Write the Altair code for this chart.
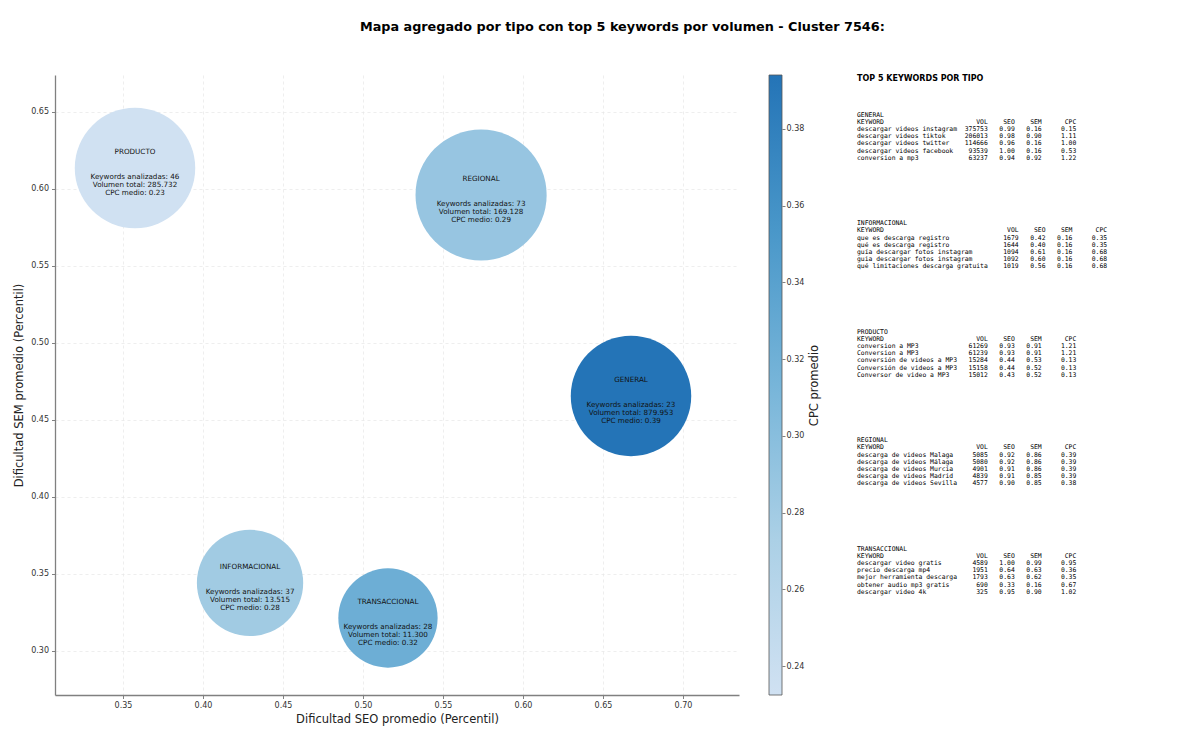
import altair as alt
import pandas as pd

# --- resumen por tipo (burbujas) ---
tipos = ["PRODUCTO", "REGIONAL", "GENERAL", "INFORMACIONAL", "TRANSACCIONAL"]
seo_medio = [0.3575, 0.5738, 0.6675, 0.4294, 0.5156]
sem_medio = [0.6136, 0.5961, 0.4656, 0.3442, 0.3214]
cpc_medio = [0.2325, 0.289, 0.394, 0.281, 0.322]
num_keywords = [46, 73, 23, 37, 28]
volumen_total = [285732, 169128, 879953, 13515, 11300]
peso_burbuja = [0.844, 1.0, 0.844, 0.657, 0.573]

# --- top 5 keywords por tipo ---
orden_panel = ["GENERAL", "INFORMACIONAL", "PRODUCTO", "REGIONAL", "TRANSACCIONAL"]

kw_general = ["descargar videos instagram", "descargar videos tiktok", "descargar videos twitter",
              "descargar videos facebook", "conversion a mp3"]
vol_general = [375753, 206013, 114666, 93539, 63237]
seo_general = [0.99, 0.98, 0.96, 1.00, 0.94]
sem_general = [0.16, 0.90, 0.16, 0.16, 0.92]
cpc_general = [0.15, 1.11, 1.00, 0.53, 1.22]

kw_info = ["que es descarga registro", "qué es descarga registro", "guía descargar fotos instagram",
           "guia descargar fotos instagram", "qué limitaciones descarga gratuita"]
vol_info = [1679, 1644, 1094, 1092, 1019]
seo_info = [0.42, 0.40, 0.61, 0.60, 0.56]
sem_info = [0.16, 0.16, 0.16, 0.16, 0.16]
cpc_info = [0.35, 0.35, 0.68, 0.68, 0.68]

kw_producto = ["conversion a MP3", "Conversion a MP3", "conversión de videos a MP3",
               "Conversión de videos a MP3", "Conversor de video a MP3"]
vol_producto = [61269, 61239, 15284, 15158, 15012]
seo_producto = [0.93, 0.93, 0.44, 0.44, 0.43]
sem_producto = [0.91, 0.91, 0.53, 0.52, 0.52]
cpc_producto = [1.21, 1.21, 0.13, 0.13, 0.13]

kw_regional = ["descarga de videos Malaga", "descarga de videos Málaga", "descarga de videos Murcia",
               "descarga de videos Madrid", "descarga de videos Sevilla"]
vol_regional = [5085, 5080, 4901, 4839, 4577]
seo_regional = [0.92, 0.92, 0.91, 0.91, 0.90]
sem_regional = [0.86, 0.86, 0.86, 0.85, 0.85]
cpc_regional = [0.39, 0.39, 0.39, 0.39, 0.38]

kw_trans = ["descargar video gratis", "precio descarga mp4", "mejor herramienta descarga",
            "obtener audio mp3 gratis", "descargar video 4k"]
vol_trans = [4589, 1951, 1793, 690, 325]
seo_trans = [1.00, 0.64, 0.63, 0.33, 0.95]
sem_trans = [0.99, 0.63, 0.62, 0.16, 0.90]
cpc_trans = [0.95, 0.36, 0.35, 0.67, 1.02]

bloques = [
    (kw_general, vol_general, seo_general, sem_general, cpc_general),
    (kw_info, vol_info, seo_info, sem_info, cpc_info),
    (kw_producto, vol_producto, seo_producto, sem_producto, cpc_producto),
    (kw_regional, vol_regional, seo_regional, sem_regional, cpc_regional),
    (kw_trans, vol_trans, seo_trans, sem_trans, cpc_trans),
]

FONT = "DejaVu Sans"
MONO = "DejaVu Sans Mono"
NBSP = "\u00a0"
BLUES = ["#d0e1f2", "#abd0e6", "#77b5d9", "#4997c9", "#2474b7"]
CPC_DOM = [min(cpc_medio), max(cpc_medio)]

# burbujas
burbujas = pd.DataFrame({
    "tipo": tipos,
    "seo": seo_medio,
    "sem": sem_medio,
    "cpc": cpc_medio,
    "peso": peso_burbuja,
})
burbujas["detalle"] = [
    f"Keywords analizadas: {n}\nVolumen total: {format(v, ',').replace(',', '.')}\nCPC medio: {c:.2f}"
    for n, v, c in zip(num_keywords, volumen_total, cpc_medio)
]

x_scale = alt.Scale(domain=[0.3075, 0.735], nice=False, zero=False)
y_scale = alt.Scale(domain=[0.2714, 0.674], nice=False, zero=False)

base = alt.Chart(burbujas).encode(
    x=alt.X("seo:Q", scale=x_scale,
            axis=alt.Axis(values=[0.35, 0.40, 0.45, 0.50, 0.55, 0.60, 0.65, 0.70], format=".2f",
                          title="Dificultad SEO promedio (Percentil)", titlePadding=4)),
    y=alt.Y("sem:Q", scale=y_scale,
            axis=alt.Axis(values=[0.30, 0.35, 0.40, 0.45, 0.50, 0.55, 0.60, 0.65], format=".2f",
                          title="Dificultad SEM promedio (Percentil)", titlePadding=6)),
)

puntos = base.mark_circle(opacity=1).encode(
    color=alt.Color("cpc:Q", scale=alt.Scale(domain=CPC_DOM, range=BLUES), legend=None),
    size=alt.Size("peso:Q", scale=alt.Scale(domain=[0, 1], range=[0, 17200]), legend=None),
)

nombres = base.mark_text(fontSize=7.2, dy=-16, color="#111", font=FONT).encode(text="tipo:N")
detalles = base.mark_text(lineBreak="\n", fontSize=7.2, lineHeight=7.9, dy=9, color="#111", font=FONT).encode(
    text="detalle:N"
)

mapa = (puntos + nombres + detalles).properties(width=684, height=620)

# barra de color (CPC promedio)
barra = alt.Chart(burbujas).transform_aggregate(
    lo="min(cpc)", hi="max(cpc)"
).mark_rect(
    color=alt.Gradient(
        gradient="linear",
        stops=[alt.GradientStop(color=c, offset=i / (len(BLUES) - 1)) for i, c in enumerate(BLUES)],
        x1=0, x2=0, y1=1, y2=0,
    ),
    stroke="#555", strokeWidth=0.8,
).encode(
    y=alt.Y("lo:Q", scale=alt.Scale(domain=CPC_DOM, nice=False, zero=False),
            axis=alt.Axis(orient="right", values=[0.24, 0.26, 0.28, 0.30, 0.32, 0.34, 0.36, 0.38],
                          format=".2f", title="CPC promedio", titleAngle=270,
                          titleX=32, titleY=310, titleAlign="center", titleBaseline="middle",
                          labelPadding=1, tickSize=3, domain=False, grid=False)),
    y2="hi:Q",
).properties(width=13, height=620)

# panel de texto con el top 5
filas = [{"linea": 0, "texto": "TOP 5 KEYWORDS POR TIPO", "clase": "titulo"}]
for k, (nombre, (kws, vols, seos, sems, cpcs)) in enumerate(zip(orden_panel, bloques)):
    ancho = max(len(w) for w in kws)
    inicio = 5 + 15.07 * k
    lineas = [nombre, f"{'KEYWORD':<{ancho}}{'VOL':>8}{'SEO':>7}{'SEM':>7}{'CPC':>9}"]
    for w, v, s1, s2, c in zip(kws, vols, seos, sems, cpcs):
        lineas.append(f"{w:<{ancho}}{v:>8}{s1:>7.2f}{s2:>7.2f}{c:>9.2f}")
    for j, txt in enumerate(lineas):
        filas.append({"linea": inicio + j, "texto": txt.replace(" ", NBSP), "clase": "tabla"})
panel_df = pd.DataFrame(filas)

panel_base = alt.Chart(panel_df).encode(
    x=alt.value(0),
    y=alt.Y("linea:Q", scale=alt.Scale(domain=[-0.5, 85.6], reverse=True, nice=False, zero=False), axis=None),
    text="texto:N",
)
panel_titulo = panel_base.transform_filter(alt.datum.clase == "titulo").mark_text(
    align="left", baseline="middle", font=FONT, fontSize=8, fontWeight="bold", color="#000"
)
panel_tabla = panel_base.transform_filter(alt.datum.clase == "tabla").mark_text(
    align="left", baseline="middle", font=MONO, fontSize=6.4, color="#000"
)
panel = (panel_titulo + panel_tabla).properties(width=290, height=620)

chart = alt.hconcat(
    alt.hconcat(mapa, barra, spacing=29),
    panel,
    spacing=37,
).resolve_scale(y="independent").properties(
    title=alt.TitleParams(
        "Mapa agregado por tipo con top 5 keywords por volumen - Cluster 7546:",
        fontSize=12.8, font=FONT, fontWeight="bold", color="#000", anchor="middle", offset=41, dx=42,
    ),
    background="white",
    padding={"left": 5, "top": 12, "right": 5, "bottom": 5},
).configure_view(
    strokeWidth=0
).configure_axis(
    labelFont=FONT, titleFont=FONT, labelFontSize=8, titleFontSize=11.5, titleFontWeight="normal",
    labelColor="#333", titleColor="#222", domainColor="#808080", domainWidth=1.3,
    tickColor="#808080", tickSize=3.5, gridColor="#e6e6e6", gridDash=[3, 3], gridWidth=0.7,
    labelPadding=3,
)

chart.save("out.html", embed_options={"renderer": "svg", "actions": False})
